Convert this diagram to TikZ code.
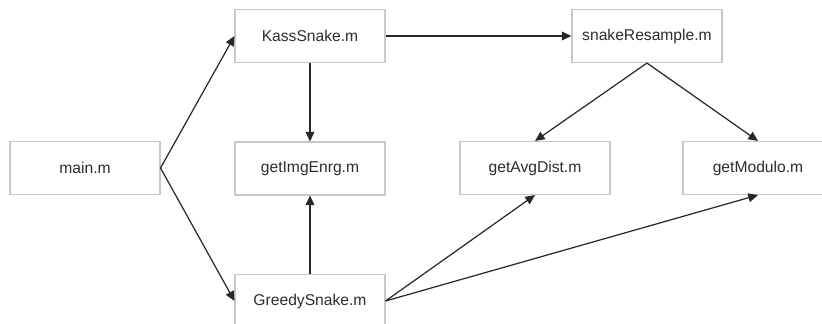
\documentclass[tikz,border=0pt]{standalone}
\usepackage{fontspec}
\setmainfont{Liberation Sans}
\usepackage{xcolor}
\definecolor{boxline}{RGB}{200,200,200}
\definecolor{arrcol}{RGB}{40,40,40}
\definecolor{txtcol}{RGB}{45,45,45}
\usetikzlibrary{arrows.meta}

\begin{document}
\begin{tikzpicture}[
  mfile/.style={rectangle, draw=boxline, line width=0.6pt, fill=white,
                minimum width=3.0cm, minimum height=1.06cm, inner sep=0pt,
                font=\fontsize{8.9}{10}\selectfont, text=txtcol},
  arr/.style={-{Triangle[length=5.5pt, width=5pt]}, line width=0.7pt, color=arrcol}
]
\useasboundingbox (0,0) rectangle (16.44,-6.46);
\clip (0,0) rectangle (16.44,-6.46);

%% caller
\node[mfile] (main)   at (1.70,-3.36)  {main.m};

%% snake solvers
\node[mfile] (kass)   at (6.20,-0.72)  {KassSnake.m};
\node[mfile] (greedy) at (6.20,-6.02)  {GreedySnake.m};

%% helpers
\node[mfile] (imgen)  at (6.20,-3.37)  {getImgEnrg.m};
\node[mfile] (resamp) at (12.94,-0.72) {snakeResample.m};
\node[mfile] (avgd)   at (10.70,-3.36) {getAvgDist.m};
\node[mfile] (modu)   at (15.16,-3.36) {getModulo.m};

\draw[arr] (main.east)   -- (kass.west);
\draw[arr] (main.east)   -- (greedy.west);
\draw[arr] (kass)        -- (resamp);
\draw[arr] (kass)        -- (imgen);
\draw[arr] (greedy)      -- (imgen);
\draw[arr] (resamp.south) -- (avgd.north);
\draw[arr] (resamp.south) -- (modu.north);
\draw[arr] (greedy.east) -- (avgd.south);
\draw[arr] (greedy.east) -- (modu.south);
\end{tikzpicture}
\end{document}
